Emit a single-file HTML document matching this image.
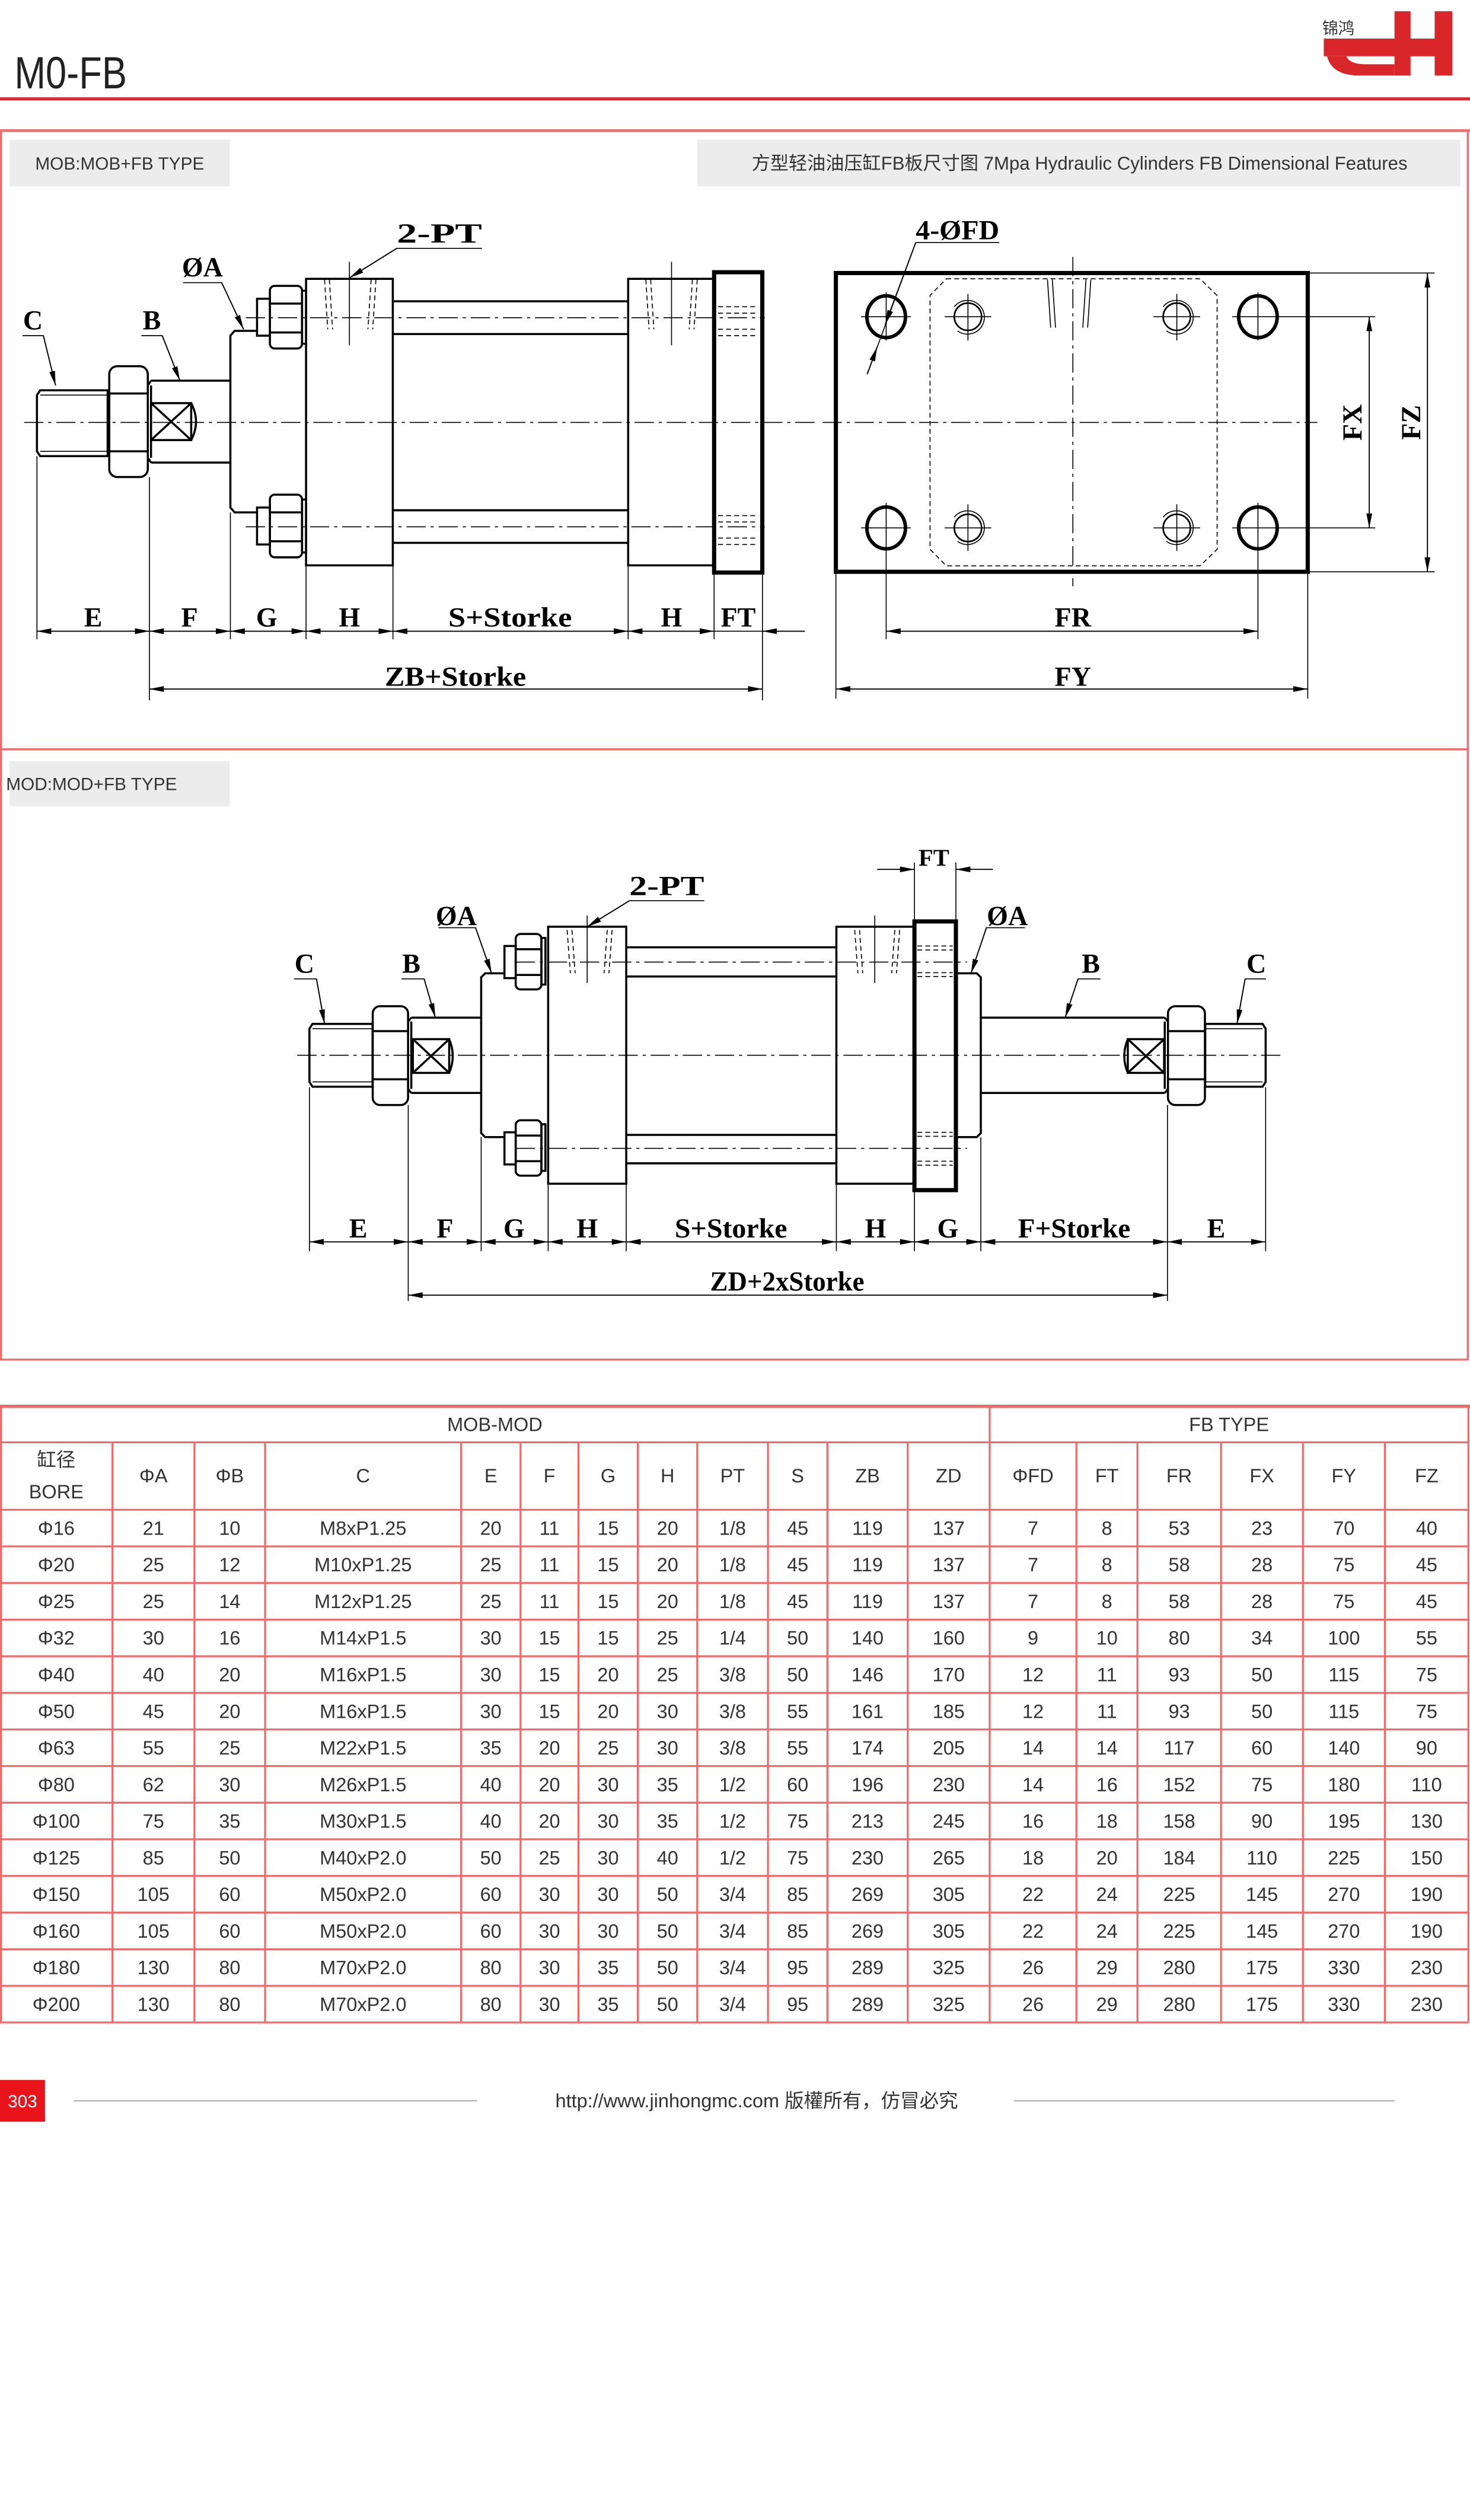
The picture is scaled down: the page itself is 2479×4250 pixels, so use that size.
<!DOCTYPE html>
<html><head><meta charset="utf-8">
<style>
html,body{margin:0;padding:0;background:#fff;}
svg{display:block;}
.s{stroke:#000;stroke-width:1.3;fill:none;}
.k{stroke:#000;stroke-width:2.6;fill:none;}
.t{stroke:#000;stroke-width:0.6;fill:none;}
.c{stroke:#000;stroke-width:0.6;fill:none;stroke-dasharray:12 3 2 3;}
.h{stroke:#000;stroke-width:0.6;fill:none;stroke-dasharray:3 2;}
.d{stroke:#000;stroke-width:0.7;fill:none;marker-start:url(#a);marker-end:url(#a);}
.de{stroke:#000;stroke-width:0.7;fill:none;marker-end:url(#a);}
.L{font-family:"Liberation Serif",serif;font-weight:bold;font-size:17px;fill:#000;text-anchor:middle;}
.T{font-family:"Liberation Sans Narrow","Liberation Sans","Noto Sans CJK SC",sans-serif;font-size:12px;fill:#333;text-anchor:middle;}
.g{stroke:#ef6b6b;stroke-width:1.2;fill:none;}
</style></head>
<body>
<svg width="2479" height="4250" viewBox="0 0 915 1569" preserveAspectRatio="none" xmlns="http://www.w3.org/2000/svg">
<defs>
<marker id="a" viewBox="0 0 10 4" refX="10" refY="2" markerWidth="9" markerHeight="3.6" markerUnits="userSpaceOnUse" orient="auto-start-reverse"><path d="M0,0 L10,2 L0,4z" fill="#000"/></marker>
</defs>
<rect x="0" y="0" width="915" height="1569" fill="#fff"/>

<!-- header -->
<text x="9" y="55" font-family="Liberation Sans Narrow,Liberation Sans,sans-serif" font-size="28" fill="#222" textLength="70" lengthAdjust="spacingAndGlyphs">M0-FB</text>
<rect x="0" y="60.6" width="915" height="1.9" fill="#d9262a"/>
<g fill="#d9262a">
<rect x="824" y="24" width="75" height="11"/>
<rect x="868" y="7" width="10" height="40"/>
<rect x="893" y="7" width="11" height="40"/>
<path d="M826,35 L838,35 Q840,40 850,40 L868,40 L868,47 L846,47 Q829,47 826,35 Z"/>
</g>
<text x="823" y="21" font-family="Noto Sans CJK SC,sans-serif" font-size="10" fill="#333">锦鸿</text>

<!-- section boxes -->
<rect x="0.6" y="81.5" width="913" height="385" class="g"/>
<rect x="0.6" y="466.5" width="913" height="380" class="g"/>
<rect x="0" y="80.5" width="915" height="1.6" fill="#ef6b6b"/>
<rect x="6" y="87" width="137" height="29" fill="#ececec"/>
<text x="74.5" y="105.5" class="T" style="font-size:11px">MOB:MOB+FB TYPE</text>
<rect x="434" y="87" width="475" height="29" fill="#ececec"/>
<text x="672" y="105.5" class="T" style="font-size:11.5px">方型轻油油压缸FB板尺寸图 7Mpa Hydraulic Cylinders FB Dimensional Features</text>
<rect x="6" y="474" width="137" height="28" fill="#ececec"/>
<text x="57" y="492" class="T" style="font-size:11px">MOD:MOD+FB TYPE</text>

<!-- ===== Drawing 1 side ===== -->
<line x1="15" y1="263" x2="510" y2="263" class="c"/>
<path d="M25,243 L67,243 L67,284 L25,284 L23,281 L23,246 Z" class="s"/>
<line x1="25" y1="246" x2="67" y2="246" class="t"/><line x1="25" y1="281" x2="67" y2="281" class="t"/>
<rect x="68" y="228" width="24" height="69" rx="5" class="s"/>
<line x1="68" y1="245" x2="92" y2="245" class="s"/><line x1="68" y1="281" x2="92" y2="281" class="s"/>
<path d="M94,237 L143.4,237 M94,288 L143.4,288 M94,240 L94,285 M92,240 L94,237 M92,285 L94,288" class="s"/>
<rect x="94" y="251" width="25" height="23" class="s"/>
<path d="M94,251 L119,274 M119,251 L94,274 M119,251 Q125,262.5 119,274" class="s"/>
<path d="M160,206 L146,206 L143.4,209 L143.4,316 L146,319 L160,319" class="s"/>
<g id="nut1">
<rect x="160" y="186" width="8" height="23" class="s"/>
<rect x="168" y="178" width="20" height="39" rx="3" class="s"/>
<line x1="168" y1="189" x2="188" y2="189" class="s"/><line x1="168" y1="207" x2="188" y2="207" class="s"/>
<rect x="188" y="181" width="2.5" height="33" class="s"/>
</g>
<use href="#nut1" transform="translate(0,130)"/>
<rect x="190.5" y="173.6" width="54" height="178.4" class="s"/>
<path d="M244.6,187.6 L391,187.6 M244.6,208 L391,208 M244.6,317.7 L391,317.7 M244.6,338 L391,338" class="s"/>
<rect x="391" y="173.6" width="53.5" height="178.4" class="s"/>
<rect x="444.5" y="169.5" width="30" height="187" class="k"/>
<path d="M447,191 L472,191 M447,195 L472,195 M447,205 L472,205 M447,209 L472,209 M447,321 L472,321 M447,325 L472,325 M447,335 L472,335 M447,339 L472,339" class="h"/>
<line x1="153" y1="197.8" x2="476" y2="197.8" class="c"/>
<line x1="153" y1="328" x2="476" y2="328" class="c"/>
<path d="M202,174 L204,205 M205,174 L207,205 M231,174 L229,205 M234,174 L232,205 M402,174 L404,205 M405,174 L407,205 M431,174 L429,205 M434,174 L432,205" class="h"/>
<line x1="217.5" y1="163" x2="217.5" y2="215" class="t"/>
<line x1="418" y1="163" x2="418" y2="215" class="t"/>
<!-- ext lines -->
<path d="M23,284 L23,398 M93,297 L93,436 M143.4,319 L143.4,398 M190.5,352 L190.5,398 M244.6,352 L244.6,398 M391,352 L391,398 M444.5,357 L444.5,398 M474.6,357 L474.6,436" class="t"/>
<line x1="23" y1="393" x2="93" y2="393" class="d"/>
<line x1="93" y1="393" x2="143.4" y2="393" class="d"/>
<line x1="143.4" y1="393" x2="190.5" y2="393" class="d"/>
<line x1="190.5" y1="393" x2="244.6" y2="393" class="d"/>
<line x1="244.6" y1="393" x2="391" y2="393" class="d"/>
<line x1="391" y1="393" x2="444.5" y2="393" class="d"/>
<line x1="444.5" y1="393" x2="474.6" y2="393" class="t"/>
<line x1="501" y1="393" x2="474.6" y2="393" class="de"/>
<line x1="93" y1="429" x2="474.6" y2="429" class="d"/>
<text x="58" y="390" class="L">E</text>
<text x="118" y="390" class="L">F</text>
<text x="166" y="390" class="L">G</text>
<text x="217.5" y="390" class="L">H</text>
<text x="317.5" y="390" class="L" textLength="77" lengthAdjust="spacingAndGlyphs">S+Storke</text>
<text x="418" y="390" class="L">H</text>
<text x="459.5" y="390" class="L">FT</text>
<text x="283.5" y="427" class="L" textLength="88" lengthAdjust="spacingAndGlyphs">ZB+Storke</text>
<!-- leaders -->
<text x="273.5" y="151" class="L" textLength="53" lengthAdjust="spacingAndGlyphs">2-PT</text>
<path d="M300,154.6 L247,154.6 L217.5,173" class="t"/><line x1="247" y1="154.6" x2="217.5" y2="173" class="de"/>
<text x="126" y="172" class="L">ØA</text>
<path d="M114,176 L138,176 L151.6,205" class="t"/><line x1="138" y1="176" x2="151.6" y2="205" class="de"/>
<text x="20.5" y="205" class="L">C</text>
<path d="M14,209 L27,209 L34.6,240" class="t"/><line x1="27" y1="209" x2="34.6" y2="240" class="de"/>
<text x="94.5" y="205" class="L">B</text>
<path d="M88,209 L101,209 L112,237" class="t"/><line x1="101" y1="209" x2="112" y2="237" class="de"/>

<!-- ===== Drawing 1 plate view ===== -->
<rect x="520.3" y="170" width="293.7" height="186" class="k"/>
<path d="M589,173.6 L747,173.6 L757.6,184 L757.6,342 L747,352.3 L589,352.3 L578.9,342 L578.9,184 Z" class="h"/>
<line x1="512" y1="263" x2="820" y2="263" class="c"/>
<line x1="667.8" y1="160" x2="667.8" y2="365" class="c"/>
<path d="M652,174 L654,204 M655,174 L657,204 M676,174 L674,204 M679,174 L677,204" class="t"/>
<g class="s" style="stroke-width:2.2">
<ellipse cx="551.6" cy="197.2" rx="12" ry="13"/><ellipse cx="783" cy="197.2" rx="12" ry="13"/>
<ellipse cx="551.6" cy="328.7" rx="12" ry="13"/><ellipse cx="783" cy="328.7" rx="12" ry="13"/>
</g>
<g class="s" style="stroke-width:1">
<circle cx="602.5" cy="197.2" r="8.5"/><circle cx="732.5" cy="197.2" r="8.5"/>
<circle cx="602.5" cy="328.7" r="8.5"/><circle cx="732.5" cy="328.7" r="8.5"/>
</g>
<g class="t">
<path d="M594,191 A10.5,10.5 0 1 1 596,206" /><path d="M724,191 A10.5,10.5 0 1 1 726,206"/>
<path d="M594,322 A10.5,10.5 0 1 1 596,337"/><path d="M724,322 A10.5,10.5 0 1 1 726,337"/>
<path d="M536,197.2 L567,197.2 M551.6,182 L551.6,212 M767,197.2 L798,197.2 M783,182 L783,212 M536,328.7 L567,328.7 M551.6,313 L551.6,343 M767,328.7 L798,328.7 M783,313 L783,343 M588,197.2 L617,197.2 M602.5,183 L602.5,212 M718,197.2 L747,197.2 M732.5,183 L732.5,212 M588,328.7 L617,328.7 M602.5,314 L602.5,343 M718,328.7 L747,328.7 M732.5,314 L732.5,343"/>
</g>
<path d="M814,170 L893,170 M814,356 L893,356 M798,197.2 L856,197.2 M798,328.7 L856,328.7 M520.3,357 L520.3,435 M814,357 L814,435 M551.6,343 L551.6,398 M783,343 L783,398" class="t"/>
<line x1="852.3" y1="197.2" x2="852.3" y2="328.7" class="d"/>
<line x1="888.5" y1="170" x2="888.5" y2="356" class="d"/>
<line x1="551.6" y1="393" x2="783" y2="393" class="d"/>
<line x1="520.3" y1="429" x2="814" y2="429" class="d"/>
<text x="667.8" y="390" class="L">FR</text>
<text x="667.8" y="427" class="L">FY</text>
<text x="0" y="0" class="L" transform="translate(847.5,263) rotate(-90)">FX</text>
<text x="0" y="0" class="L" transform="translate(884,263) rotate(-90)">FZ</text>
<text x="596" y="149" class="L" textLength="52" lengthAdjust="spacingAndGlyphs">4-ØFD</text>
<path d="M622,151 L570,151 L539.8,233" class="t"/>
<line x1="570" y1="151" x2="551" y2="202" class="de"/>
<line x1="539.8" y1="233" x2="546" y2="216" class="de"/>

<!-- ===== Drawing 2 ===== -->
<line x1="185" y1="657" x2="797" y2="657" class="c"/>
<path d="M194.5,637.5 L231.9,637.5 L231.9,676.6 L194.5,676.6 L192.6,673.6 L192.6,640.5 Z" class="s"/>
<line x1="194.5" y1="640.5" x2="231.9" y2="640.5" class="t"/><line x1="194.5" y1="673.6" x2="231.9" y2="673.6" class="t"/>
<rect x="232" y="626.5" width="22" height="61.5" rx="4.5" class="s"/>
<line x1="232" y1="642" x2="254" y2="642" class="s"/><line x1="232" y1="672" x2="254" y2="672" class="s"/>
<path d="M256,633.6 L299.5,633.6 M256,680.5 L299.5,680.5 M256,636 L256,678 M254,636 L256,633.6 M254,678 L256,680.5" class="s"/>
<rect x="257" y="647" width="22.6" height="21" class="s"/>
<path d="M257,647 L279.6,668 M279.6,647 L257,668 M279.6,647 Q284,657.5 279.6,668" class="s"/>
<path d="M314,606 L302,606 L299.5,608.5 L299.5,705.5 L302,708 L314,708" class="s"/>
<g id="nut2">
<rect x="314" y="589" width="7" height="20" class="s"/>
<rect x="321" y="581.5" width="16" height="34.5" rx="3" class="s"/>
<line x1="321" y1="591" x2="337" y2="591" class="s"/><line x1="321" y1="607" x2="337" y2="607" class="s"/>
<rect x="337" y="584" width="2.5" height="29" class="s"/>
</g>
<use href="#nut2" transform="translate(0,116)"/>
<rect x="341.2" y="577" width="48.6" height="160" class="s"/>
<path d="M389.8,589.8 L520.6,589.8 M389.8,608 L520.6,608 M389.8,706.6 L520.6,706.6 M389.8,724.3 L520.6,724.3" class="s"/>
<rect x="520.6" y="577" width="48.6" height="160" class="s"/>
<rect x="569.2" y="573.7" width="25.8" height="167.3" class="k"/>
<path d="M571,589 L593,589 M571,591.5 L593,591.5 M571,605.6 L593,605.6 M571,608 L593,608 M571,705 L593,705 M571,707.5 L593,707.5 M571,723 L593,723 M571,725.5 L593,725.5" class="h"/>
<path d="M595,606 L608,606 L610.5,608.5 L610.5,705.5 L608,708 L595,708" class="s"/>
<line x1="321" y1="599" x2="602" y2="599" class="c"/>
<line x1="321" y1="715" x2="602" y2="715" class="c"/>
<path d="M353,579 L355,606 M356,579 L358,606 M378,579 L376,606 M381,579 L379,606 M532,579 L534,606 M535,579 L537,606 M557,579 L555,606 M560,579 L558,606" class="h"/>
<line x1="365.5" y1="570" x2="365.5" y2="612" class="t"/>
<line x1="544.5" y1="570" x2="544.5" y2="612" class="t"/>
<path d="M610.5,633.6 L725,633.6 M610.5,680.5 L725,680.5 M725,636 L725,678 M727,636 L725,633.6 M727,678 L725,680.5" class="s"/>
<rect x="702" y="647" width="22.6" height="21" class="s"/>
<path d="M702,647 L724.6,668 M724.6,647 L702,668 M702,647 Q697.6,657.5 702,668" class="s"/>
<rect x="727" y="626.5" width="23" height="61.5" rx="4.5" class="s"/>
<line x1="727" y1="642" x2="750" y2="642" class="s"/><line x1="727" y1="672" x2="750" y2="672" class="s"/>
<path d="M750.2,637.5 L785.9,637.5 L787.8,640.5 L787.8,673.6 L785.9,676.6 L750.2,676.6 Z" class="s"/>
<line x1="750.2" y1="640.5" x2="785.9" y2="640.5" class="t"/><line x1="750.2" y1="673.6" x2="785.9" y2="673.6" class="t"/>
<path d="M192.6,677 L192.6,779 M254.1,688 L254.1,810 M299.5,708 L299.5,779 M341.2,737 L341.2,779 M389.8,737 L389.8,779 M520.6,737 L520.6,779 M569.2,741 L569.2,779 M610.5,708 L610.5,779 M726.7,688 L726.7,810 M787.8,677 L787.8,779 M569.2,573 L569.2,537 M595,573 L595,537" class="t"/>
<line x1="192.6" y1="773.2" x2="254.1" y2="773.2" class="d"/>
<line x1="254.1" y1="773.2" x2="299.5" y2="773.2" class="d"/>
<line x1="299.5" y1="773.2" x2="341.2" y2="773.2" class="d"/>
<line x1="341.2" y1="773.2" x2="389.8" y2="773.2" class="d"/>
<line x1="389.8" y1="773.2" x2="520.6" y2="773.2" class="d"/>
<line x1="520.6" y1="773.2" x2="569.2" y2="773.2" class="d"/>
<line x1="569.2" y1="773.2" x2="610.5" y2="773.2" class="d"/>
<line x1="610.5" y1="773.2" x2="726.7" y2="773.2" class="d"/>
<line x1="726.7" y1="773.2" x2="787.8" y2="773.2" class="d"/>
<line x1="254.1" y1="806.4" x2="726.7" y2="806.4" class="d"/>
<line x1="546" y1="541.3" x2="569.2" y2="541.3" class="de"/>
<line x1="618" y1="541.3" x2="595" y2="541.3" class="de"/>
<text x="223" y="770.5" class="L">E</text>
<text x="277" y="770.5" class="L">F</text>
<text x="320" y="770.5" class="L">G</text>
<text x="365.5" y="770.5" class="L">H</text>
<text x="455" y="770.5" class="L" textLength="70" lengthAdjust="spacingAndGlyphs">S+Storke</text>
<text x="545" y="770.5" class="L">H</text>
<text x="590" y="770.5" class="L">G</text>
<text x="668.6" y="770.5" class="L" textLength="70" lengthAdjust="spacingAndGlyphs">F+Storke</text>
<text x="757" y="770.5" class="L">E</text>
<text x="490" y="803.5" class="L" textLength="96" lengthAdjust="spacingAndGlyphs">ZD+2xStorke</text>
<text x="581.3" y="539" class="L" style="font-size:15px">FT</text>
<text x="415" y="557.3" class="L" textLength="46.6" lengthAdjust="spacingAndGlyphs">2-PT</text>
<path d="M438.4,560.8 L391.8,560.8 L365.5,577" class="t"/><line x1="391.8" y1="560.8" x2="365.5" y2="577" class="de"/>
<text x="284" y="576" class="L">ØA</text>
<path d="M273,577.6 L296,577.6 L306,606" class="t"/><line x1="296" y1="577.6" x2="306" y2="606" class="de"/>
<text x="627" y="576" class="L">ØA</text>
<path d="M638,577.6 L614,577.6 L604.4,606" class="t"/><line x1="614" y1="577.6" x2="604.4" y2="606" class="de"/>
<text x="189.5" y="605.6" class="L">C</text>
<path d="M183,609.5 L197,609.5 L202,637.5" class="t"/><line x1="197" y1="609.5" x2="202" y2="637.5" class="de"/>
<text x="256" y="605.6" class="L">B</text>
<path d="M250,609.5 L264,609.5 L271,633.6" class="t"/><line x1="264" y1="609.5" x2="271" y2="633.6" class="de"/>
<text x="679" y="605.6" class="L">B</text>
<path d="M685,609.5 L671,609.5 L663,633.6" class="t"/><line x1="671" y1="609.5" x2="663" y2="633.6" class="de"/>
<text x="782" y="605.6" class="L">C</text>
<path d="M788,609.5 L775,609.5 L770,637.5" class="t"/><line x1="775" y1="609.5" x2="770" y2="637.5" class="de"/>

<!-- ===== Table ===== -->
<g class="g">
<line x1="0" y1="875.6" x2="915" y2="875.6" style="stroke-width:2"/>
<line x1="0" y1="898" x2="914" y2="898"/>
<line x1="0" y1="940" x2="914" y2="940"/>
<line x1="0" y1="962.8" x2="914" y2="962.8"/><line x1="0" y1="985.6" x2="914" y2="985.6"/>
<line x1="0" y1="1008.4" x2="914" y2="1008.4"/><line x1="0" y1="1031.2" x2="914" y2="1031.2"/>
<line x1="0" y1="1054" x2="914" y2="1054"/><line x1="0" y1="1076.8" x2="914" y2="1076.8"/>
<line x1="0" y1="1099.6" x2="914" y2="1099.6"/><line x1="0" y1="1122.4" x2="914" y2="1122.4"/>
<line x1="0" y1="1145.2" x2="914" y2="1145.2"/><line x1="0" y1="1168" x2="914" y2="1168"/>
<line x1="0" y1="1190.8" x2="914" y2="1190.8"/><line x1="0" y1="1213.6" x2="914" y2="1213.6"/>
<line x1="0" y1="1236.4" x2="914" y2="1236.4"/><line x1="0" y1="1259.2" x2="914" y2="1259.2"/>
<line x1="0.6" y1="875.6" x2="0.6" y2="1259.2"/><line x1="914" y1="875.6" x2="914" y2="1259.2"/>
<line x1="616" y1="875.6" x2="616" y2="1259.2"/>
<path d="M70,898 V1259.2 M121,898 V1259.2 M165,898 V1259.2 M287,898 V1259.2 M324,898 V1259.2 M360,898 V1259.2 M397,898 V1259.2 M434,898 V1259.2 M478,898 V1259.2 M515,898 V1259.2 M565,898 V1259.2 M670,898 V1259.2 M708,898 V1259.2 M760,898 V1259.2 M811,898 V1259.2 M862,898 V1259.2"/>
</g>
<g class="T">
<text x="308" y="891">MOB-MOD</text><text x="765" y="891">FB TYPE</text>
<text x="35" y="913">缸径</text><text x="35" y="933">BORE</text>
<text x="95.5" y="923">ΦA</text><text x="143" y="923">ΦB</text><text x="226" y="923">C</text><text x="305.5" y="923">E</text><text x="342" y="923">F</text><text x="378.5" y="923">G</text><text x="415.5" y="923">H</text><text x="456" y="923">PT</text><text x="496.5" y="923">S</text><text x="540" y="923">ZB</text><text x="590.5" y="923">ZD</text><text x="643" y="923">ΦFD</text><text x="689" y="923">FT</text><text x="734" y="923">FR</text><text x="785.5" y="923">FX</text><text x="836.5" y="923">FY</text><text x="888" y="923">FZ</text>
</g>
<g class="T">
<g transform="translate(0,955.6)"><text x="35">Φ16</text><text x="95.5">21</text><text x="143">10</text><text x="226">M8xP1.25</text><text x="305.5">20</text><text x="342">11</text><text x="378.5">15</text><text x="415.5">20</text><text x="456">1/8</text><text x="496.5">45</text><text x="540">119</text><text x="590.5">137</text><text x="643">7</text><text x="689">8</text><text x="734">53</text><text x="785.5">23</text><text x="836.5">70</text><text x="888">40</text></g>
<g transform="translate(0,978.4)"><text x="35">Φ20</text><text x="95.5">25</text><text x="143">12</text><text x="226">M10xP1.25</text><text x="305.5">25</text><text x="342">11</text><text x="378.5">15</text><text x="415.5">20</text><text x="456">1/8</text><text x="496.5">45</text><text x="540">119</text><text x="590.5">137</text><text x="643">7</text><text x="689">8</text><text x="734">58</text><text x="785.5">28</text><text x="836.5">75</text><text x="888">45</text></g>
<g transform="translate(0,1001.2)"><text x="35">Φ25</text><text x="95.5">25</text><text x="143">14</text><text x="226">M12xP1.25</text><text x="305.5">25</text><text x="342">11</text><text x="378.5">15</text><text x="415.5">20</text><text x="456">1/8</text><text x="496.5">45</text><text x="540">119</text><text x="590.5">137</text><text x="643">7</text><text x="689">8</text><text x="734">58</text><text x="785.5">28</text><text x="836.5">75</text><text x="888">45</text></g>
<g transform="translate(0,1024)"><text x="35">Φ32</text><text x="95.5">30</text><text x="143">16</text><text x="226">M14xP1.5</text><text x="305.5">30</text><text x="342">15</text><text x="378.5">15</text><text x="415.5">25</text><text x="456">1/4</text><text x="496.5">50</text><text x="540">140</text><text x="590.5">160</text><text x="643">9</text><text x="689">10</text><text x="734">80</text><text x="785.5">34</text><text x="836.5">100</text><text x="888">55</text></g>
<g transform="translate(0,1046.8)"><text x="35">Φ40</text><text x="95.5">40</text><text x="143">20</text><text x="226">M16xP1.5</text><text x="305.5">30</text><text x="342">15</text><text x="378.5">20</text><text x="415.5">25</text><text x="456">3/8</text><text x="496.5">50</text><text x="540">146</text><text x="590.5">170</text><text x="643">12</text><text x="689">11</text><text x="734">93</text><text x="785.5">50</text><text x="836.5">115</text><text x="888">75</text></g>
<g transform="translate(0,1069.6)"><text x="35">Φ50</text><text x="95.5">45</text><text x="143">20</text><text x="226">M16xP1.5</text><text x="305.5">30</text><text x="342">15</text><text x="378.5">20</text><text x="415.5">30</text><text x="456">3/8</text><text x="496.5">55</text><text x="540">161</text><text x="590.5">185</text><text x="643">12</text><text x="689">11</text><text x="734">93</text><text x="785.5">50</text><text x="836.5">115</text><text x="888">75</text></g>
<g transform="translate(0,1092.4)"><text x="35">Φ63</text><text x="95.5">55</text><text x="143">25</text><text x="226">M22xP1.5</text><text x="305.5">35</text><text x="342">20</text><text x="378.5">25</text><text x="415.5">30</text><text x="456">3/8</text><text x="496.5">55</text><text x="540">174</text><text x="590.5">205</text><text x="643">14</text><text x="689">14</text><text x="734">117</text><text x="785.5">60</text><text x="836.5">140</text><text x="888">90</text></g>
<g transform="translate(0,1115.2)"><text x="35">Φ80</text><text x="95.5">62</text><text x="143">30</text><text x="226">M26xP1.5</text><text x="305.5">40</text><text x="342">20</text><text x="378.5">30</text><text x="415.5">35</text><text x="456">1/2</text><text x="496.5">60</text><text x="540">196</text><text x="590.5">230</text><text x="643">14</text><text x="689">16</text><text x="734">152</text><text x="785.5">75</text><text x="836.5">180</text><text x="888">110</text></g>
<g transform="translate(0,1138)"><text x="35">Φ100</text><text x="95.5">75</text><text x="143">35</text><text x="226">M30xP1.5</text><text x="305.5">40</text><text x="342">20</text><text x="378.5">30</text><text x="415.5">35</text><text x="456">1/2</text><text x="496.5">75</text><text x="540">213</text><text x="590.5">245</text><text x="643">16</text><text x="689">18</text><text x="734">158</text><text x="785.5">90</text><text x="836.5">195</text><text x="888">130</text></g>
<g transform="translate(0,1160.8)"><text x="35">Φ125</text><text x="95.5">85</text><text x="143">50</text><text x="226">M40xP2.0</text><text x="305.5">50</text><text x="342">25</text><text x="378.5">30</text><text x="415.5">40</text><text x="456">1/2</text><text x="496.5">75</text><text x="540">230</text><text x="590.5">265</text><text x="643">18</text><text x="689">20</text><text x="734">184</text><text x="785.5">110</text><text x="836.5">225</text><text x="888">150</text></g>
<g transform="translate(0,1183.6)"><text x="35">Φ150</text><text x="95.5">105</text><text x="143">60</text><text x="226">M50xP2.0</text><text x="305.5">60</text><text x="342">30</text><text x="378.5">30</text><text x="415.5">50</text><text x="456">3/4</text><text x="496.5">85</text><text x="540">269</text><text x="590.5">305</text><text x="643">22</text><text x="689">24</text><text x="734">225</text><text x="785.5">145</text><text x="836.5">270</text><text x="888">190</text></g>
<g transform="translate(0,1206.4)"><text x="35">Φ160</text><text x="95.5">105</text><text x="143">60</text><text x="226">M50xP2.0</text><text x="305.5">60</text><text x="342">30</text><text x="378.5">30</text><text x="415.5">50</text><text x="456">3/4</text><text x="496.5">85</text><text x="540">269</text><text x="590.5">305</text><text x="643">22</text><text x="689">24</text><text x="734">225</text><text x="785.5">145</text><text x="836.5">270</text><text x="888">190</text></g>
<g transform="translate(0,1229.2)"><text x="35">Φ180</text><text x="95.5">130</text><text x="143">80</text><text x="226">M70xP2.0</text><text x="305.5">80</text><text x="342">30</text><text x="378.5">35</text><text x="415.5">50</text><text x="456">3/4</text><text x="496.5">95</text><text x="540">289</text><text x="590.5">325</text><text x="643">26</text><text x="689">29</text><text x="734">280</text><text x="785.5">175</text><text x="836.5">330</text><text x="888">230</text></g>
<g transform="translate(0,1252)"><text x="35">Φ200</text><text x="95.5">130</text><text x="143">80</text><text x="226">M70xP2.0</text><text x="305.5">80</text><text x="342">30</text><text x="378.5">35</text><text x="415.5">50</text><text x="456">3/4</text><text x="496.5">95</text><text x="540">289</text><text x="590.5">325</text><text x="643">26</text><text x="689">29</text><text x="734">280</text><text x="785.5">175</text><text x="836.5">330</text><text x="888">230</text></g>
</g>

<!-- footer -->
<rect x="0" y="1295" width="28" height="26" fill="#e8141a"/>
<text x="14" y="1312" class="T" style="fill:#fff;font-size:11px">303</text>
<line x1="46" y1="1308" x2="297" y2="1308" stroke="#b0b0b0" stroke-width="0.8"/>
<line x1="631" y1="1308" x2="868" y2="1308" stroke="#b0b0b0" stroke-width="0.8"/>
<text x="471" y="1312" class="T" style="font-size:12px">http://www.jinhongmc.com 版權所有，仿冒必究</text>
</svg>
</body></html>
